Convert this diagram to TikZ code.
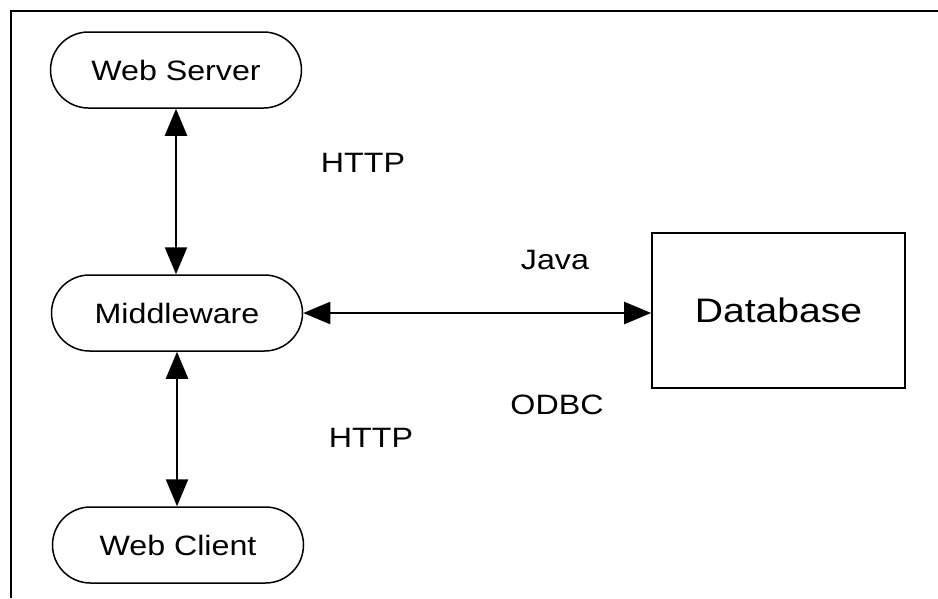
\documentclass[tikz,border=0pt]{standalone}
\usepackage{fontspec}
\setmainfont{Liberation Sans}[FakeStretch=1.15]
\usetikzlibrary{arrows.meta}
\begin{document}
\begin{tikzpicture}[x=1pt,y=-1pt,
  pill/.style={draw, line width=1.5pt, rounded corners=38pt, minimum width=251pt, minimum height=76pt, inner sep=0pt, font=\fontsize{28}{32}\selectfont},
  dbbox/.style={draw, line width=1.6pt, minimum width=253pt, minimum height=155pt, inner sep=0pt, font=\fontsize{34}{40}\selectfont},
  lbl/.style={inner sep=0pt, font=\fontsize{28}{32}\selectfont},
  link/.style={line width=2.4pt, {Triangle[length=27pt,width=22pt]}-{Triangle[length=27pt,width=22pt]}},
  frame/.style={line width=2.6pt}
]
\useasboundingbox (0,0) rectangle (938,598);
\coordinate (fa) at (11,598);
\coordinate (fb) at (11,11);
\coordinate (fc) at (938,11);
\draw[frame] (fa) -- (fb) -- (fc);

\node[pill] (ws) at (176,70) {Web Server};
\node[pill] (mw) at (177,313) {Middleware};
\node[pill] (wc) at (178,545) {Web Client};
\node[dbbox] (db) at (778.5,310.5) {Database};

\draw[link] (ws.south) -- (ws.south |- mw.north);
\draw[link] (mw.south) -- (mw.south |- wc.north);
\draw[link] (mw.east) -- (mw.east -| db.west);

\node[lbl] (h1) at (363,163) {HTTP};
\node[lbl] (jv) at (555,260) {Java};
\node[lbl] (od) at (557,405) {ODBC};
\node[lbl] (h2) at (371,438) {HTTP};
\end{tikzpicture}
\end{document}
